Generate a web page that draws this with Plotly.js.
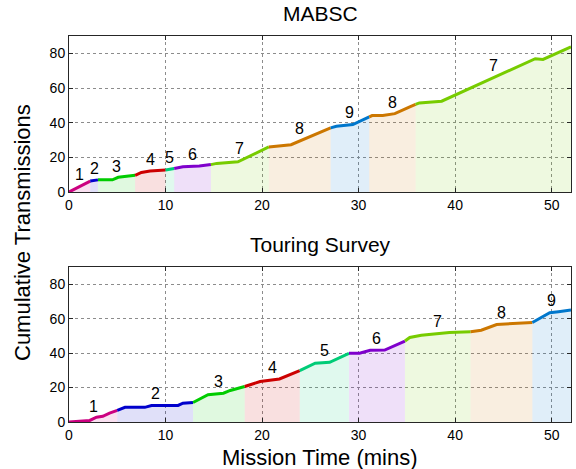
<!DOCTYPE html>
<html>
<head>
<meta charset="utf-8">
<script src="https://cdn.plot.ly/plotly-3.0.1.min.js"></script>
<style>html,body{margin:0;padding:0;background:#fff;}#chart{width:576px;height:469px;}</style>
</head>
<body>
<div id="chart"></div>
<script>
// ---- Data ----
const topTitle = "MABSC";
const bottomTitle = "Touring Survey";
const xLabel = "Mission Time (mins)";
const yLabel = "Cumulative Transmissions";
const xTicks = [0, 10, 20, 30, 40, 50];
const yTicks = [0, 20, 40, 60, 80];

// MABSC
const topTime  = [0, 2.2, 3.0, 4.5, 5.1, 6.85, 7.5, 8.4, 9.4, 10.0, 10.9, 11.8, 13.5, 14.7, 15.3, 17.5, 20.7, 23.0, 27.1, 27.7, 29.4, 31.1, 31.4, 32.5, 33.75, 35.3, 35.9, 36.3, 38.6, 43.6, 48.3, 49.1, 52.0];
const topCount = [0, 6.3, 7.0, 7.0, 8.5, 9.6, 11.3, 12.1, 12.7, 12.7, 13.6, 14.6, 15.0, 15.8, 16.5, 17.4, 26.0, 27.3, 37.0, 37.9, 38.9, 43.3, 44.1, 44.1, 45.2, 49.1, 50.5, 51.4, 52.4, 64.9, 76.9, 76.5, 83.8];
const topSegIds = [1, 2, 3, 4, 5, 6, 7, 8, 9, 8, 7];
const topSegEdges = [0, 2.2, 3.0, 6.85, 10.0, 10.9, 14.7, 20.7, 27.1, 31.1, 35.9, 52.0];

// Touring Survey
const botTime  = [0, 2.15, 2.85, 3.5, 4.2, 5.0, 5.8, 7.85, 8.55, 11.3, 11.8, 12.85, 14.4, 16.0, 16.7, 18.2, 19.8, 21.8, 23.9, 25.5, 27.0, 29.0, 30.1, 31.2, 32.7, 34.8, 35.3, 36.5, 39.4, 41.6, 42.7, 44.3, 46.2, 48.0, 49.8, 50.7, 52.0];
const botCount = [0, 0.9, 2.8, 3.3, 5.2, 6.8, 8.5, 8.5, 9.6, 9.6, 10.9, 11.3, 15.8, 16.7, 18.3, 20.6, 23.5, 25.0, 29.8, 34.1, 34.7, 39.9, 39.9, 41.6, 41.8, 47.0, 49.1, 50.4, 52.0, 52.4, 53.3, 56.6, 57.2, 57.8, 63.4, 64.0, 65.0];
const botSegIds = [1, 2, 3, 4, 5, 6, 7, 8, 9];
const botSegEdges = [0, 5.0, 12.85, 18.2, 23.9, 29.0, 34.8, 41.6, 48.0, 52.0];

// segment colours (by segment id)
const segColors = {
  1: [204, 0, 128], 2: [0, 0, 204], 3: [0, 204, 0], 4: [204, 0, 0], 5: [0, 204, 119],
  6: [127, 0, 204], 7: [119, 204, 0], 8: [204, 119, 0], 9: [0, 119, 204]
};

const FONT = "Liberation Sans, Arial, Helvetica, sans-serif";

function interp(t, xs, ys) {
  for (let i = 0; i < xs.length - 1; i++) {
    if (t >= xs[i] && t <= xs[i + 1]) {
      const f = (xs[i + 1] === xs[i]) ? 0 : (t - xs[i]) / (xs[i + 1] - xs[i]);
      return ys[i] + f * (ys[i + 1] - ys[i]);
    }
  }
  return ys[ys.length - 1];
}

const traces = [];
const annotations = [];

function buildPanel(times, counts, ids, edges, xa, ya) {
  for (let s = 0; s < ids.length; s++) {
    const a = edges[s], b = edges[s + 1];
    const xs = [a], ys = [interp(a, times, counts)];
    for (let i = 0; i < times.length; i++) {
      if (times[i] > a && times[i] < b) { xs.push(times[i]); ys.push(counts[i]); }
    }
    xs.push(b); ys.push(interp(b, times, counts));
    const c = segColors[ids[s]];
    traces.push({
      type: "scatter", mode: "lines", x: xs, y: ys, xaxis: xa, yaxis: ya,
      fill: "tozeroy", fillcolor: `rgba(${c[0]},${c[1]},${c[2]},0.12)`,
      line: { color: `rgb(${c[0]},${c[1]},${c[2]})`, width: 3 },
      showlegend: false, hoverinfo: "skip"
    });
    const mid = (a + b) / 2;
    annotations.push({
      x: mid, y: interp(mid, times, counts), xref: xa, yref: ya,
      text: String(ids[s]), showarrow: false, yanchor: "middle", yshift: 12,
      font: { family: FONT, size: 16, color: "#000" }
    });
  }
}

buildPanel(topTime, topCount, topSegIds, topSegEdges, "x", "y");
buildPanel(botTime, botCount, botSegIds, botSegEdges, "x2", "y2");

const PH = 386; // plot-area height in px (469 - 36 - 47)
function py(p) { return (422 - p) / PH; }

annotations.push(
  { text: topTitle, xref: "paper", yref: "paper", x: 0.5, y: py(13), showarrow: false, yanchor: "middle",
    font: { family: FONT, size: 21, color: "#000" } },
  { text: bottomTitle, xref: "paper", yref: "paper", x: 0.5, y: py(245), showarrow: false, yanchor: "middle",
    font: { family: FONT, size: 21, color: "#000" } },
  { text: xLabel, xref: "paper", yref: "paper", x: 0.5, y: py(457), showarrow: false, yanchor: "middle",
    font: { family: FONT, size: 22, color: "#000" } },
  { text: yLabel, xref: "paper", yref: "paper", x: (22 - 69) / 502, y: py(233), showarrow: false,
    xanchor: "center", yanchor: "middle", textangle: -90,
    font: { family: FONT, size: 22, color: "#000" } }
);

function xAxis(anchor) {
  return {
    anchor: anchor, domain: [0, 1], range: [0, 52], tickvals: xTicks,
    showgrid: true, gridcolor: "#8c8c8c", griddash: "dot", gridwidth: 1,
    zeroline: false, showline: true, linecolor: "#262626", linewidth: 1, mirror: "ticks",
    ticks: "inside", ticklen: 4, tickcolor: "#262626",
    tickfont: { family: FONT, size: 14, color: "#000" }
  };
}
function yAxis(anchor, dom) {
  return {
    anchor: anchor, domain: dom, range: [0, 90], tickvals: yTicks,
    showgrid: true, gridcolor: "#8c8c8c", griddash: "dot", gridwidth: 1,
    zeroline: false, showline: true, linecolor: "#262626", linewidth: 1, mirror: "ticks",
    ticks: "inside", ticklen: 4, tickcolor: "#262626",
    tickfont: { family: FONT, size: 14, color: "#000" }
  };
}

const layout = {
  width: 576, height: 469,
  margin: { l: 69, r: 5, t: 36, b: 47, pad: 0 },
  paper_bgcolor: "#fff", plot_bgcolor: "#fff",
  showlegend: false,
  xaxis: xAxis("y"),
  yaxis: yAxis("x", [py(192), 1]),
  xaxis2: xAxis("y2"),
  yaxis2: yAxis("x2", [0, py(267)]),
  annotations: annotations
};

Plotly.newPlot("chart", traces, layout, { displayModeBar: false, staticPlot: true });
</script>
</body>
</html>
